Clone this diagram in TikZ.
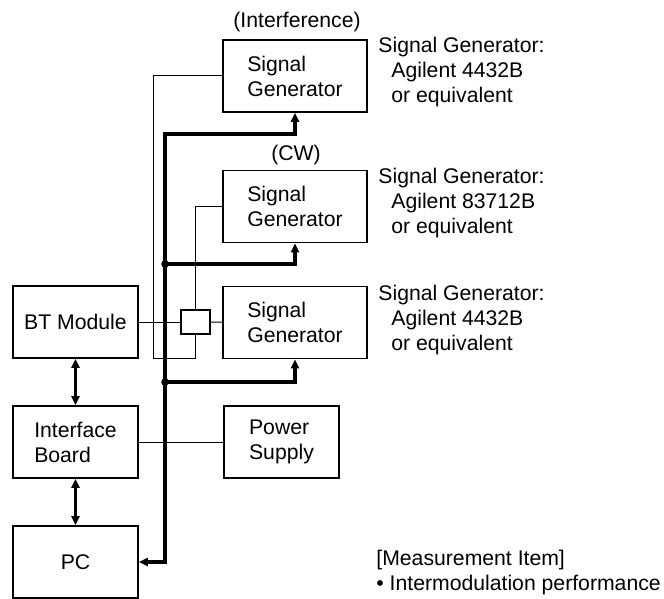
\documentclass[tikz,border=0pt]{standalone}
\usepackage{fontspec}
\setmainfont{Liberation Sans}
\usetikzlibrary{positioning,arrows.meta}

\begin{document}
\begin{tikzpicture}[x=0.5pt,y=-0.5pt,
                    font=\fontsize{10.6}{12.5}\selectfont,
                    box node/.style={draw,line width=0.9pt,inner sep=0pt,align=left,minimum height=36pt},
                    sg node/.style={box node,minimum width=72pt},
                    dev node/.style={box node,minimum width=62.5pt},
                    note node/.style={anchor=west,inner sep=0pt,align=left},
                    thin line/.style={line width=0.5pt},
                    bus line/.style={line width=1.6pt},
                    tip/.style={-{Triangle[length=4.5pt,width=4pt]}},
                    both tips/.style={{Triangle[length=4.5pt,width=4pt]}-{Triangle[length=4.5pt,width=4pt]}}]

  \useasboundingbox (0,0) rectangle (664,599);

  % generators
  \node[sg node] (sg1) at (295,76) {Signal\\Generator};
  \node[sg node] (sg2) at (295,206.5) {Signal\\Generator};
  \node[sg node] (sg3) at (295,322.5) {Signal\\Generator};
  \node (int) at (297,22) {(Interference)};
  \node (cw) at (296,155) {(CW)};

  % devices on the left
  \node[dev node] (bt) at (75.5,322) {BT Module};
  \node[dev node] (ib) at (75.5,442) {Interface\\Board};
  \node[dev node] (pc) at (75.5,562) {PC};
  \node[box node,minimum width=57.5pt] (ps) at (281.5,442) {Power\\Supply};
  \node[draw,line width=0.9pt,minimum width=14.5pt,minimum height=12pt,inner sep=0pt] (comb) at (195.5,322) {};

  % notes
  \node[note node] (n1) at (378,72) {Signal Generator:\\\hspace*{6.5pt}Agilent 4432B\\\hspace*{6.5pt}or equivalent};
  \node[note node] (n2) at (378,203) {Signal Generator:\\\hspace*{6.5pt}Agilent 83712B\\\hspace*{6.5pt}or equivalent};
  \node[note node] (n3) at (378,320) {Signal Generator:\\\hspace*{6.5pt}Agilent 4432B\\\hspace*{6.5pt}or equivalent};
  \node[note node] (item) at (376,573) {[Measurement Item]\\\textbullet\ Intermodulation performance};

  % RF lines
  \coordinate (loop) at (153,358);
  \draw[thin line] (sg1.west) -| (loop) -| (comb.south);
  \draw[thin line] (sg2.west) -| (comb.north);
  \path[thin line]
    (bt) edge (comb)
    (comb) edge (sg3)
    (ib) edge (ps);

  % control bus
  \coordinate (b0) at (165,134);
  \coordinate (b1) at (165,264);
  \coordinate (b2) at (165,382);
  \coordinate (b3) at (165,562);
  \draw[bus line,both tips] (pc.east) -- (b3) -- (b0) -- (b0 -| sg1.south) -- (sg1.south);
  \draw[bus line,tip] (b1) -- (b1 -| sg2.south) -- (sg2.south);
  \draw[bus line,tip] (b2) -- (b2 -| sg3.south) -- (sg3.south);
  \fill (b1) circle (1.9pt);
  \fill (b2) circle (1.9pt);

  \draw[bus line,both tips] (bt) -- (ib);
  \draw[bus line,both tips] (ib) -- (pc);
\end{tikzpicture}
\end{document}
